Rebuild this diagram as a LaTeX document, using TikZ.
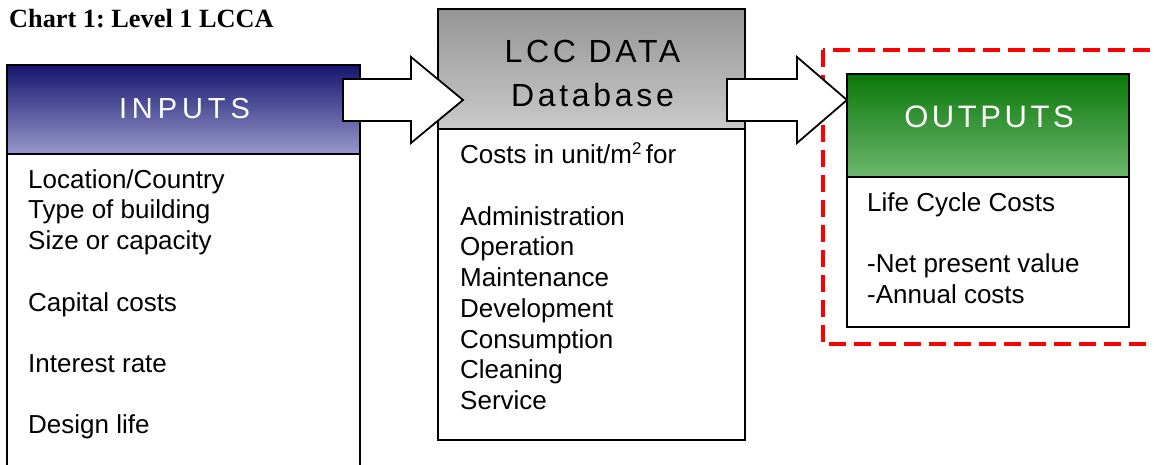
\documentclass[tikz,border=0pt]{standalone}
\usepackage{fontspec}
\setmainfont{Liberation Serif}
\newfontfamily\arialf{Liberation Sans}
\newfontfamily\hdInF{Liberation Sans}[LetterSpace=17]
\newfontfamily\hdLcF{Liberation Sans}[LetterSpace=11.5]
\newfontfamily\hdOutF{Liberation Sans}[LetterSpace=11.5]
\newcommand\bodyfnt{\arialf\fontsize{26}{30.7}\selectfont}
\newcommand\supertwo{\raisebox{9pt}{\fontsize{17}{17}\selectfont 2}}
\definecolor{navytop}{HTML}{15156E}
\definecolor{navymid}{HTML}{6A6AAE}
\definecolor{navybot}{HTML}{9898CC}
\definecolor{graytop}{HTML}{959595}
\definecolor{graybot}{HTML}{C9C9C9}
\definecolor{greentop}{HTML}{0A780A}
\definecolor{greenmid}{HTML}{4C9C4C}
\definecolor{greenbot}{HTML}{6EB76E}
\definecolor{dashred}{HTML}{FF0000}
\tikzset{
  boxshape/.style={draw=black, line width=1.8pt, anchor=north west, inner sep=0pt, outer sep=0pt},
  bodytext/.style={anchor=north west, inner sep=0pt, align=left, font=\bodyfnt, text=black},
  headtext/.style={anchor=base, inner sep=0pt},
  blockarr/.style={draw=black, fill=white, line width=1.8pt, line join=miter},
  reddash/.style={draw=dashred, line width=4pt, dash pattern=on 17pt off 8pt}
}
\frenchspacing
\begin{document}
\begin{tikzpicture}[x=1pt,y=-1pt]
\useasboundingbox (0,0) rectangle (1154,464);
\fill[white] (0,0) rectangle (1154,464);

% title
\node[anchor=base west, inner sep=0pt, font=\bfseries\fontsize{26.3}{30}\selectfont] (title) at (9,27) {Chart 1: Level 1 LCCA};

% INPUTS
\node[boxshape, minimum width=353pt, minimum height=89pt, top color=navytop, middle color=navymid, bottom color=navybot] (inh) at (7,65) {};
\node[boxshape, minimum width=353pt, minimum height=330pt, fill=white] (inb) at (inh.south west) {};
\node[headtext, text=white, font=\hdInF\fontsize{29}{30}\selectfont] (intxt) at (184.5,118.5) {INPUTS};
\node[bodytext] (inbody) at (28,169.2) {Location/Country\\Type of building\\Size or capacity\\[30.7pt]Capital costs\\[30.7pt]Interest rate\\[30.7pt]Design life};

% LCC DATA
\node[boxshape, minimum width=307pt, minimum height=120pt, top color=graytop, bottom color=graybot] (lch) at (438,9) {};
\node[boxshape, minimum width=307pt, minimum height=311pt, fill=white] (lcb) at (lch.south west) {};
\node[headtext, text=black, font=\hdLcF\fontsize{32}{44}\selectfont] (lctxta) at (592.5,62.5) {LCC DATA};
\node[headtext, text=black, font=\hdLcF\fontsize{32}{44}\selectfont] (lctxtb) at (592.5,106.5) {Database};
\node[bodytext] (lcbody) at (460,142.8) {Costs in unit/m\supertwo\,for\\[30.7pt]Administration\\Operation\\Maintenance\\Development\\Consumption\\Cleaning\\Service};

% red dashed frame
\draw[reddash] (823,50) rectangle (1180,344);

% OUTPUTS
\node[boxshape, minimum width=282pt, minimum height=103pt, top color=greentop, middle color=greenmid, bottom color=greenbot] (outh) at (847,74) {};
\node[boxshape, minimum width=282pt, minimum height=150pt, fill=white] (outb) at (outh.south west) {};
\node[headtext, text=white, font=\hdOutF\fontsize{31}{34}\selectfont] (outtxt) at (989,127.5) {OUTPUTS};
\node[bodytext] (outbody) at (867,192.2) {Life Cycle Costs\\[30.7pt]-Net present value\\-Annual costs};

% block arrows
\coordinate (a1tail) at (343,100);
\coordinate (a1base) at (411,100);
\coordinate (a1tip) at (463,100);
\coordinate (a2tail) at (727,100);
\coordinate (a2base) at (797,100);
\coordinate (a2tip) at (outh.west |- a2tail);
\draw[blockarr] ([yshift=21pt]a1tail) -- ([yshift=21pt]a1base) -- ([yshift=43pt]a1base) -- (a1tip) -- ([yshift=-43pt]a1base) -- ([yshift=-21pt]a1base) -- ([yshift=-21pt]a1tail) -- cycle;
\draw[blockarr] ([yshift=21pt]a2tail) -- ([yshift=21pt]a2base) -- ([yshift=43pt]a2base) -- (a2tip) -- ([yshift=-43pt]a2base) -- ([yshift=-21pt]a2base) -- ([yshift=-21pt]a2tail) -- cycle;
\end{tikzpicture}
\end{document}
